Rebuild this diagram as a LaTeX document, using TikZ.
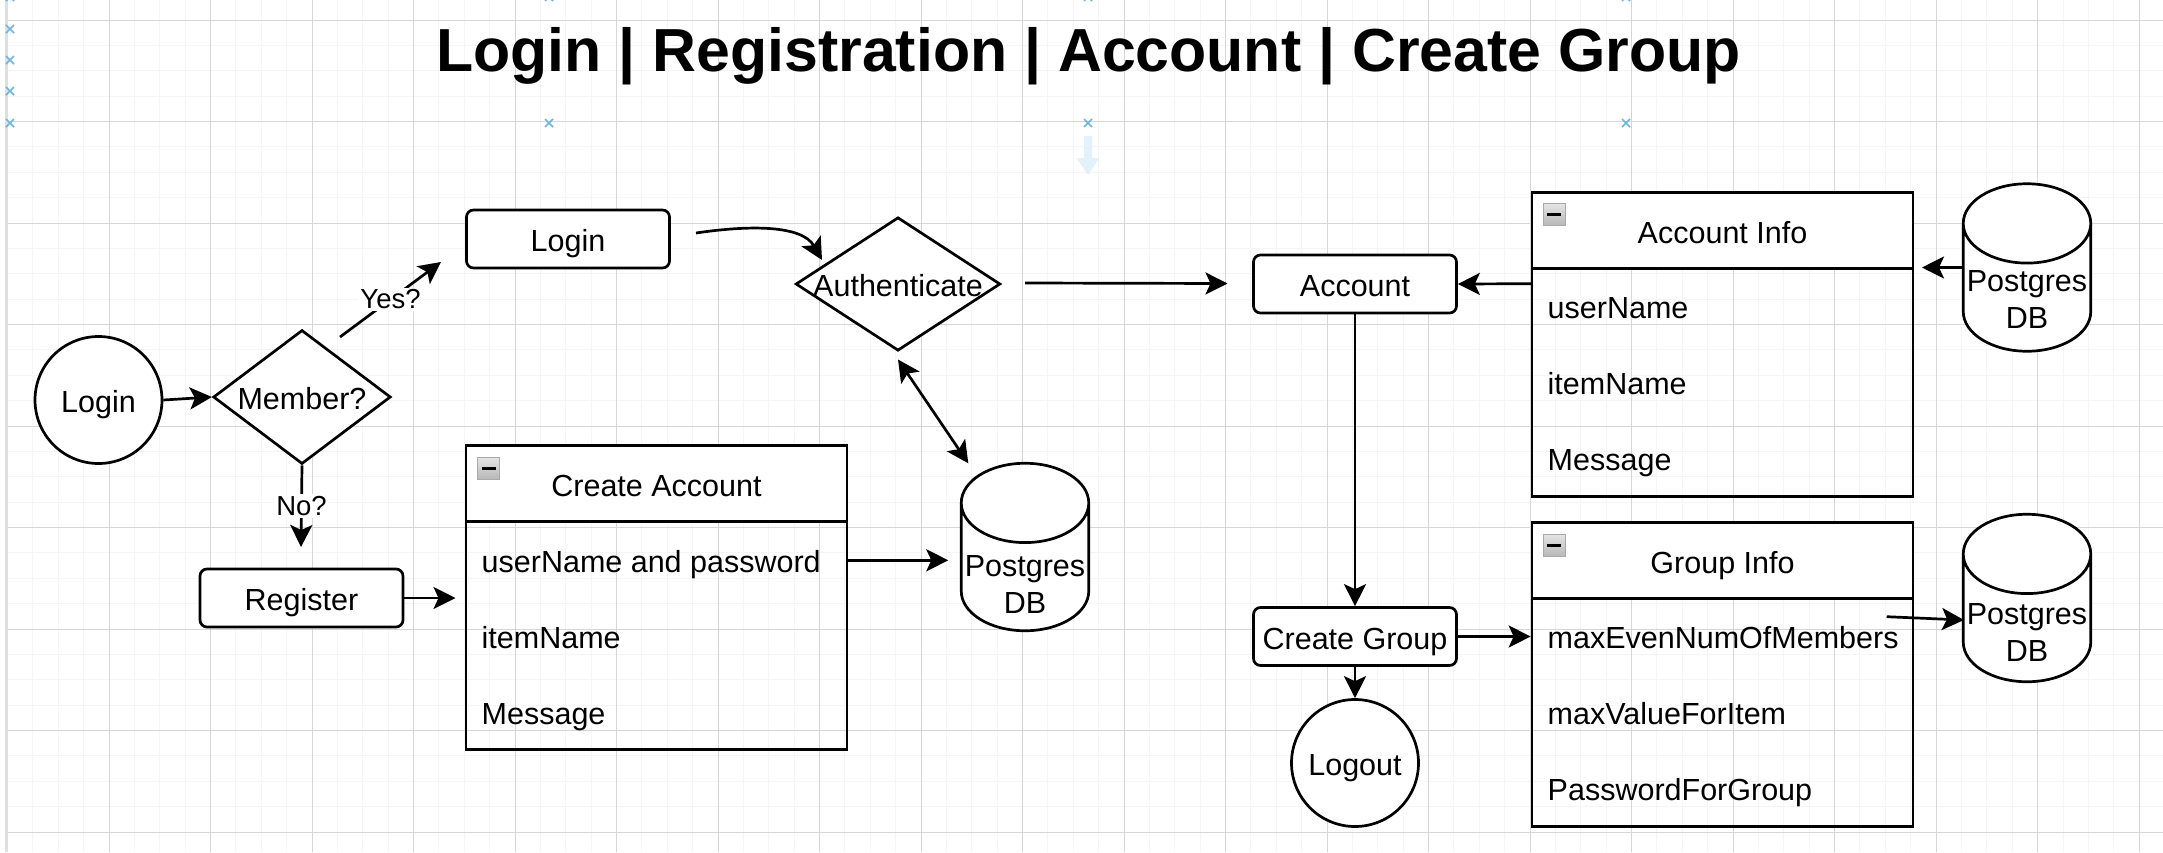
\documentclass[tikz,border=0pt]{standalone}
\usepackage{fontspec}
\setmainfont{Liberation Sans}
\usetikzlibrary{arrows.meta, shapes.geometric}

\definecolor{minorline}{HTML}{F5F5F5}
\definecolor{majorline}{HTML}{D6D6D6}
\definecolor{edgebar}{HTML}{DDE0E3}
\definecolor{markblue}{HTML}{6CB4E4}
\definecolor{ghostblue}{HTML}{E1F2FB}
\definecolor{iconedge}{HTML}{A8A8B0}

\tikzset{
    shape line/.style={draw=black, line width=2.7pt, fill=white},
    capline/.style={text height=25pt, text depth=0pt, inner sep=0pt},
    step box/.style={shape line, capline, rectangle, rounded corners=7pt, minimum width=203, minimum height=58},
    round end/.style={shape line, capline, circle, minimum size=127},
    decision/.style={shape line, capline, diamond, aspect=1.5},
    table head/.style={shape line, rectangle, inner sep=0pt, text height=25.5pt, text depth=0pt, minimum width=381, minimum height=76},
    table body/.style={draw=black, line width=2.7pt, rectangle, minimum width=381, minimum height=228},
    row text/.style={capline, anchor=west},
    minus icon/.style={rectangle, draw=iconedge, line width=1pt, top color=white!90!black, bottom color=black!28,
        minimum size=22, inner sep=0pt},
    db/.style={shape line, cylinder, shape border rotate=90, aspect=11.9, minimum width=127.5, minimum height=167.5,
        anchor=shape center, label={[align=center, yshift=-#1]center:{Postgres\\DB}}},
    flow/.style={draw=black, line width=2.7pt, ->},
    edge text/.style={fill=white, inner sep=2pt, font=\fontsize{27.5}{32}\selectfont}
}

\begin{document}
\begin{tikzpicture}[x=1pt, y=-1pt, >={Stealth[length=22pt, width=22pt, inset=5pt]},
    font=\fontsize{30.5}{37}\selectfont]
    \useasboundingbox (0,0) rectangle (2163,852);

    % the paper: four small squares to each big square
    \foreach \i in {0,...,85}
        \draw[minorline, line width=1pt] ({7.6+25.375*\i},0) -- ({7.6+25.375*\i},852);
    \foreach \i in {0,...,32}
        \draw[minorline, line width=1pt] (8,{20+25.375*\i}) -- (2163,{20+25.375*\i});
    \foreach \i in {0,...,21}
        \draw[majorline, line width=1pt] ({7.6+101.5*\i},0) -- ({7.6+101.5*\i},852);
    \foreach \i in {0,...,8}
        \draw[majorline, line width=1pt] (8,{20+101.5*\i}) -- (2163,{20+101.5*\i});
    \draw[edgebar, line width=3pt] (6,0) -- (6,852);

    % the little blue marks along the top and the left
    \foreach \mx/\my in {10/-3, 10/29, 10/60, 10/91, 10/123, 549/-3, 549/123, 1088/-3, 1088/123, 1626/-3, 1626/123}
        \draw[markblue, line width=1.6pt] (\mx-4,\my-4) -- (\mx+4,\my+4) (\mx-4,\my+4) -- (\mx+4,\my-4);
    \fill[ghostblue] (1084,136) -- (1092,136) -- (1092,158) -- (1099.5,158) -- (1088,175)
        -- (1076.5,158) -- (1084,158) -- cycle;

    \node[capline, text height=44pt, font=\fontsize{60.8}{70}\selectfont\bfseries] (title) at (1088.5,49)
        {Login | Registration | Account | Create Group};

    % left part
    \node[round end] (start) at (98.5,400) {Login};
    \node[decision, minimum width=177.5, minimum height=134] (member) at (302,397) {Member?};
    \node[step box] (loginbox) at (568,239) {Login};
    \node[step box] (register) at (301.5,598) {Register};
    % the text runs into the corners here, so it must not size the shape
    \node[decision, minimum width=204.7, minimum height=133.4] (auth) at (898,284) {\makebox[0pt]{Authenticate}};

    % create account table
    \node[table head] (createhead) at (656.5,483.7) {Create Account};
    \node[table body] (createbody) at (656.5,635.7) {};
    \node[minus icon] (createicon) at (488.5,468) {\rule{14pt}{3pt}};
    \foreach \rowname [count=\n] in {userName and password, itemName, Message}
        \node[row text] (create\n) at (481.5,{483.7+76*\n}) {\rowname};
    \node[db=11pt] (dbleft) at (1025,547) {};

    % right part
    \node[step box] (account) at (1355,284) {Account};
    \node[step box] (creategroup) at (1355,636.5) {Create Group};
    \node[round end] (logout) at (1355,763) {Logout};

    % account info table
    \node[table head] (infohead) at (1722.5,230.3) {Account Info};
    \node[table body] (infobody) at (1722.5,382.5) {};
    \node[minus icon] (infoicon) at (1554,214) {\rule{14pt}{3pt}};
    \foreach \rowname [count=\n] in {userName, itemName, Message}
        \node[row text] (info\n) at (1547.5,{230.3+76*\n}) {\rowname};
    \node[db=5pt] (dbtop) at (2027,267.5) {};

    % group info table
    \node[table head] (grouphead) at (1722.5,560.3) {Group Info};
    \node[table body] (groupbody) at (1722.5,712.5) {};
    \node[minus icon] (groupicon) at (1554,545) {\rule{14pt}{3pt}};
    \foreach \rowname [count=\n] in {maxEvenNumOfMembers, maxValueForItem, PasswordForGroup}
        \node[row text] (group\n) at (1547.5,{560.3+76*\n}) {\rowname};
    \node[db=7.5pt] (dbgroup) at (2027,598) {};

    % free ends of the arrows that stop short of a shape
    \coordinate (yesfrom) at (340,337);
    \coordinate (yesto) at (441,262);
    \coordinate (noto) at (301,547);
    \coordinate (registerto) at (455.5,598);
    \coordinate (loginfrom) at (696,233);
    \coordinate (authto) at (822,260);
    \coordinate (authfrom) at (1025,283);
    \coordinate (accountto) at (1227.5,283.5);
    \coordinate (authlow) at (898,359.5);
    \coordinate (dbhigh) at (968.3,463.3);
    \coordinate (createfrom) at (847,560.3);
    \coordinate (dbleftto) at (948.3,560.3);
    \coordinate (dbtopfrom) at (1963.4,267.5);
    \coordinate (infoto) at (1922,267.5);
    \coordinate (infofrom) at (1532,283.7);
    \coordinate (groupfrom) at (1886.7,616.7);
    \coordinate (dbgroupto) at (1964,620);

    % the arrows
    \draw[flow] (start.east) -- (member.west);
    \draw[flow] (yesfrom) -- node[edge text] (yeslabel) {Yes?} (yesto);
    \draw[flow] (member.south) -- node[edge text] (nolabel) {No?} (noto);
    \draw[flow] (register.east) -- (registerto);
    \draw[flow] (loginfrom) .. controls (750,225) and (802,225) .. (authto);
    \draw[flow] (authfrom) -- (accountto);
    \draw[flow, <->] (authlow) -- (dbhigh);
    \draw[flow] (createfrom) -- (dbleftto);
    \draw[flow] (dbtopfrom) -- (infoto);
    \draw[flow] (infofrom) -- (account.east);
    \draw[flow] (account.south) -- (creategroup.north);
    \draw[flow] (creategroup.east) -- (groupbody.west |- creategroup.east);
    \draw[flow] (creategroup.south) -- (logout.north);
    \draw[flow] (groupfrom) -- (dbgroupto);
\end{tikzpicture}
\end{document}
